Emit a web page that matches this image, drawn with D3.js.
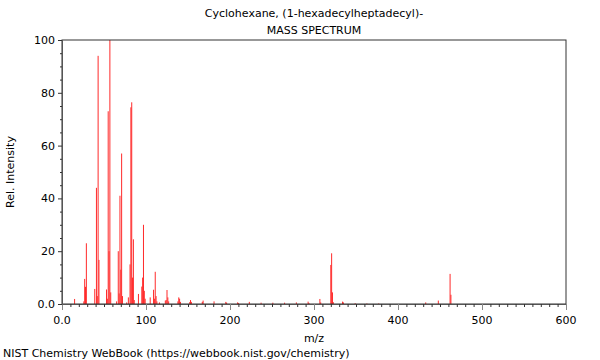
<!DOCTYPE html>
<html>
<head>
<meta charset="utf-8">
<script src="https://cdn.jsdelivr.net/npm/d3@7"></script>
<style>
  html, body { margin: 0; padding: 0; background: #fff; }
  svg { display: block; font-family: "DejaVu Sans", sans-serif; }
</style>
</head>
<body>
<svg id="chart" width="600" height="360"></svg>
<script>
const titleLines = ["Cyclohexane, (1-hexadecylheptadecyl)-", "MASS SPECTRUM"];
const xLabel = "m/z";
const yLabel = "Rel. Intensity";
const footer = "NIST Chemistry WebBook (https://webbook.nist.gov/chemistry)";

const mz = [15, 26, 27, 28, 29, 39, 41, 42, 43, 44, 53, 54, 55, 56, 57, 58, 65, 67, 68, 69, 70, 71, 72,
  77, 79, 81, 82, 83, 84, 85, 86, 91, 95, 96, 97, 98, 99, 105, 109, 110, 111, 112, 113, 116,
  123, 124, 125, 126, 127, 138, 139, 140, 141, 152, 153, 154, 167, 168, 181, 195, 196, 209, 210,
  223, 237, 251, 265, 279, 293, 294, 307, 308, 320, 321, 322, 323, 334, 335, 349, 363, 377,
  433, 448, 462, 463];
const intensity = [1.9, 1, 9.5, 6.5, 23, 5.7, 44, 3, 94, 16.7, 5.5, 2, 73, 20, 100, 4.4, 1, 20, 4, 41, 13, 57, 3,
  0.6, 2.5, 15, 74.5, 76.4, 10, 24.5, 1.5, 3.8, 6.6, 10, 30, 5, 2, 2.5, 5.4, 2, 12.2, 3, 1, 0.6,
  1.3, 1.5, 5.3, 2.5, 1, 1, 2.5, 2, 0.8, 0.7, 1.5, 0.8, 0.8, 1.3, 1, 0.8, 0.5, 0.6, 0.4,
  0.8, 0.5, 0.5, 0.5, 0.6, 0.9, 0.4, 1.9, 0.6, 14.8, 19.2, 4.4, 0.7, 0.9, 0.6, 0.3, 0.2, 0.2,
  0.6, 1.3, 11.4, 3.5];

const xMajor = [0, 100, 200, 300, 400, 500, 600];
const xMajorLabels = ["0.0", "100", "200", "300", "400", "500", "600"];
const yMajor = [0, 20, 40, 60, 80, 100];
const yMajorLabels = ["0.0", "20", "40", "60", "80", "100"];

const svg = d3.select("#chart");
const L = 62, R = 566, T = 40, B = 304;
const x = d3.scaleLinear().domain([0, 600]).range([L, R]);
const y = d3.scaleLinear().domain([0, 100]).range([B, T]);

// Title
svg.selectAll("text.title").data(titleLines).join("text")
  .attr("class", "title")
  .attr("x", 314).attr("y", (d, i) => 17 + i * 17)
  .attr("text-anchor", "middle")
  .attr("font-size", 11).attr("fill", "#000")
  .text(d => d);

// Peaks
const peaks = mz.map((m, i) => ({ m, v: intensity[i] }));
svg.append("g").selectAll("line").data(peaks).join("line")
  .attr("x1", d => x(d.m)).attr("x2", d => x(d.m))
  .attr("y1", y(0)).attr("y2", d => y(d.v))
  .attr("stroke", "#ff2a2a").attr("stroke-width", 1);

// Frame
svg.append("rect")
  .attr("x", L).attr("y", T).attr("width", R - L).attr("height", B - T)
  .attr("fill", "none").attr("stroke", "#333").attr("stroke-width", 1);

// X axis ticks
const xAxis = d3.axisBottom(x)
  .tickValues(d3.range(0, 601, 10))
  .tickSize(3)
  .tickFormat("");
const gx = svg.append("g").attr("transform", `translate(0,${B})`).call(xAxis);
gx.select(".domain").attr("stroke", "#555");
gx.selectAll(".tick line").attr("stroke", "#333")
  .attr("y2", d => d % 100 === 0 ? 6 : 3)
  .attr("stroke", d => d % 100 === 0 ? "#888" : "#333");

svg.append("g").selectAll("text").data(xMajor).join("text")
  .attr("x", d => x(d)).attr("y", 324)
  .attr("text-anchor", "middle").attr("font-size", 11)
  .text((d, i) => xMajorLabels[i]);

// Y axis ticks
const yAxis = d3.axisLeft(y)
  .tickValues(d3.range(0, 101, 5))
  .tickSize(2)
  .tickFormat("");
const gy = svg.append("g").attr("transform", `translate(${L},0)`).call(yAxis);
gy.select(".domain").attr("stroke", "#555");
gy.selectAll(".tick line").attr("stroke", "#333")
  .attr("x2", d => d % 20 === 0 ? -4 : -2);

svg.append("g").selectAll("text").data(yMajor).join("text")
  .attr("x", 55).attr("y", d => y(d) + 4)
  .attr("text-anchor", "end").attr("font-size", 11)
  .text((d, i) => yMajorLabels[i]);

// Axis titles
svg.append("text").attr("x", 314).attr("y", 342)
  .attr("text-anchor", "middle").attr("font-size", 11).text(xLabel);
svg.append("text")
  .attr("transform", `translate(14,${(T + B) / 2}) rotate(-90)`)
  .attr("text-anchor", "middle").attr("font-size", 11).text(yLabel);

// Footer
svg.append("text").attr("x", 3).attr("y", 357)
  .attr("font-size", 11).text(footer);
</script>
</body>
</html>
